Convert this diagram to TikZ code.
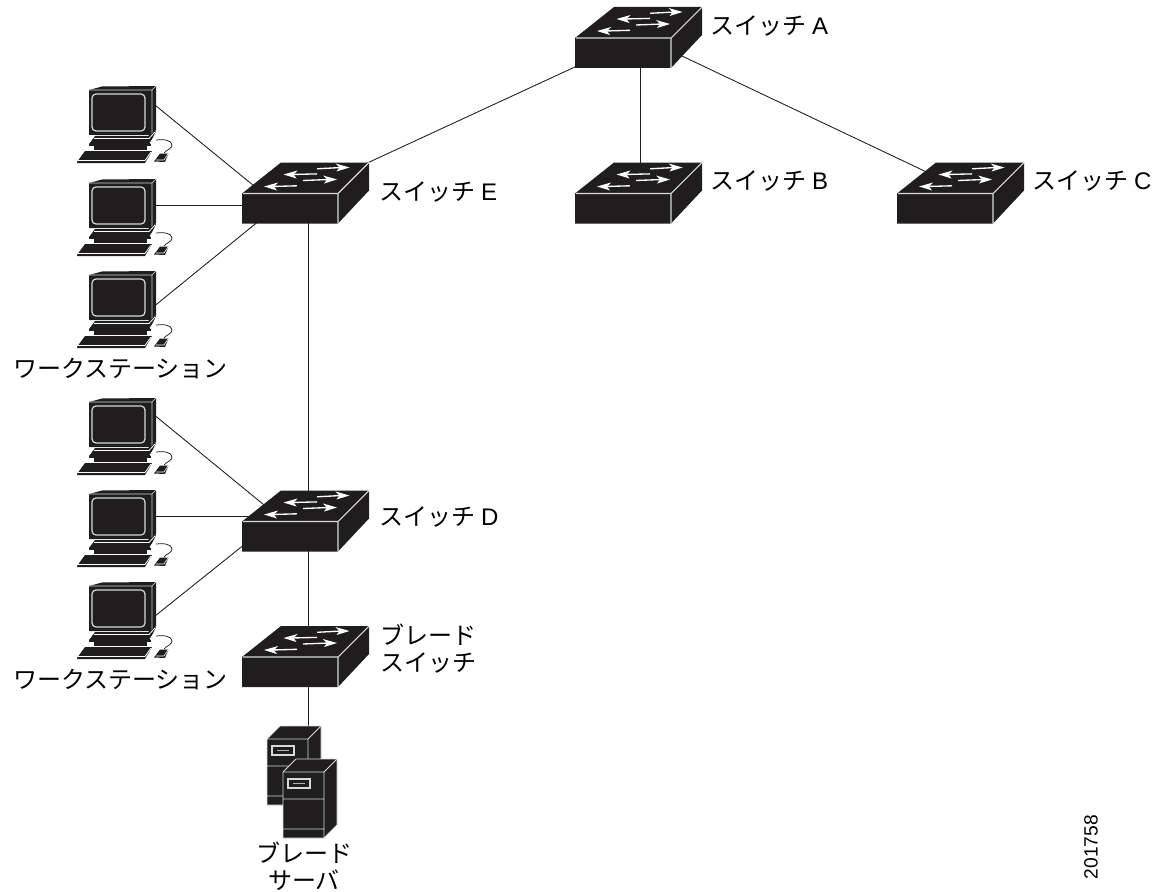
\documentclass[tikz,border=0pt]{standalone}
\usepackage{fontspec}
\setmainfont{Liberation Sans}
\newfontfamily\jpf{Noto Sans CJK JP}
\definecolor{ink}{HTML}{1F1D1E}
\newcommand{\lat}[1]{\hspace{4.5pt}{\fontspec{Liberation Sans}#1}}
\tikzset{
  anchorbox/.style={minimum size=0pt,inner sep=0pt,outer sep=0pt},
  lbl/.style={inner sep=0pt,outer sep=0pt,anchor=west,font=\jpf\fontsize{18pt}{20.25pt}\selectfont,align=left},
  lblc/.style={lbl,anchor=center,align=center},
  wire/.style={draw=ink,line width=0.65pt},
  edge/.style={draw=white!85!black,line width=0.8pt},
  flow/.style={draw=white,line width=1pt},
  head/.style={fill=white,draw=none},
  pics/switch/.style={code={
    \fill[ink] (0,0)--(39,-31)--(127,-31)--(127,-3)--(96,30)--(0,30)--cycle;
    \draw[edge] (1,0)--(96,0)--(96,30) (96,0)--(127,-31);
    \foreach \xa/\xya/\xb/\xyb in {75/-24.7/107.5/-26, 61/-13/95/-14}{
      \draw[flow] (\xa,\xya)--(\xb-8,\xyb);
      \fill[head] (\xb,\xyb)--(\xb-14,\xyb-4)--(\xb-10,\xyb)--(\xb-13,\xyb+4)--cycle;}
    \foreach \xa/\xya/\xb/\xyb in {75/-19.6/41.5/-19, 55/-7.7/22/-7}{
      \draw[flow] (\xa,\xya)--(\xb+8,\xyb);
      \fill[head] (\xb,\xyb)--(\xb+14,\xyb-4)--(\xb+10,\xyb)--(\xb+13,\xyb+4)--cycle;}
  }},
  pics/workstation/.style={code={
    \fill[ink] (0,0)--(13,-3.5)--(67,-4)--(67,40)--(63,45)--(0,45)--cycle;
    \draw[draw=white!85!black,line width=0.5pt] (0,0)--(63,0)--(63,45) (63,0)--(67,-4);
    \draw[draw=white!85!black,line width=0.9pt,rounded corners=3pt] (3,4) rectangle (56,41);
    % stand
    \fill[ink] (6,46)--(59,46)--(67,41)--(61,54)--(0,54)--cycle;
    \draw[draw=white,line width=0.6pt] (5,48.5)--(60,48.5) (60,48.5)--(66,42) (61,53)--(66,46);
    \fill[ink] (0,54)--(62,54)--(62,55.5)--(0,55.5)--cycle;
    \fill[ink] (5,56)--(58,56)--(58,60)--(5,60)--cycle;
    % keyboard
    \fill[ink] (-12,72)--(-4,61)--(63,61)--(56,73)--(-12,73)--cycle;
    \draw[draw=white,line width=0.6pt] (-11,70.5)--(56,70.5)--(62,62);
    % mouse and cord
    \draw[ink,line width=0.55pt] (67,50) .. controls (74,49) and (83,50) .. (83,55) .. controls (83,59) and (77,60) .. (75,63);
    \fill[ink] (65,71.5)--(71,63.5)--(79.5,63.5)--(76,72)--cycle;
    \draw[draw=white,line width=0.5pt] (67,70)--(75,70)--(79,64);
  }},
  pics/server/.style={code={
    \filldraw[fill=ink,draw=white!85!black,line width=0.7pt] (0,0)--(13,-13)--(54,-13)--(54,53)--(41,66)--(0,66)--cycle;
    \draw[draw=white!85!black,line width=0.7pt] (0,0)--(41,0)--(41,66) (41,0)--(54,-13) (0,27)--(41,27) (0,57)--(41,57);
    \draw[draw=white!85!black,line width=0.8pt] (5,7) rectangle (27,16);
    \draw[draw=white!70!black,line width=0.9pt] (10,11.5)--(22,11.5);
  }},
}
\begin{document}
\begin{tikzpicture}[x=0.75pt,y=-0.75pt]
\useasboundingbox (0,0) rectangle (1168,892);
% connection points (hidden behind the icons)
\node[anchorbox] (aL) at (590,60) {};
\node[anchorbox] (aM) at (640,60) {};
\node[anchorbox] (aR) at (675,52.7) {};
\node[anchorbox] (eT) at (350,171) {};
\node[anchorbox] (bT) at (640,180) {};
\node[anchorbox] (cT) at (935,176) {};
\node[anchorbox] (eW1) at (270,199) {};
\node[anchorbox] (eW2) at (260,205.7) {};
\node[anchorbox] (eW3) at (265,216) {};
\node[anchorbox] (eB) at (308,210) {};
\node[anchorbox] (dT) at (308,530) {};
\node[anchorbox] (dB) at (308,540) {};
\node[anchorbox] (dW1) at (280,518) {};
\node[anchorbox] (dW2) at (270,516) {};
\node[anchorbox] (dW3) at (260,532) {};
\node[anchorbox] (blT) at (308,670) {};
\node[anchorbox] (blB) at (308,680) {};
\node[anchorbox] (srv) at (308,735) {};
\node[anchorbox] (w1) at (150,101) {};
\node[anchorbox] (w2) at (150,205.7) {};
\node[anchorbox] (w3) at (150,309.6) {};
\node[anchorbox] (w4) at (150,411.5) {};
\node[anchorbox] (w5) at (150,516) {};
\node[anchorbox] (w6) at (150,620) {};
% connectors
\draw[wire] (aL) -- (eT);
\draw[wire] (aM) -- (bT);
\draw[wire] (aR) -- (cT);
\draw[wire] (eB) -- (dT);
\draw[wire] (dB) -- (blT);
\draw[wire] (blB) -- (srv);
\draw[wire] (w1) -- (eW1);
\draw[wire] (w2) -- (eW2);
\draw[wire] (w3) -- (eW3);
\draw[wire] (w4) -- (dW1);
\draw[wire] (w5) -- (dW2);
\draw[wire] (w6) -- (dW3);
% switches
\pic at (575,38) {switch};
\pic at (575,193.5) {switch};
\pic at (897,193.5) {switch};
\pic at (242,193.5) {switch};
\pic at (242,521.5) {switch};
\pic at (242,657) {switch};
% workstations
\foreach \yy in {90,183,275,402,494,586} \pic at (89,\yy) {workstation};
% servers
\pic at (267,739) {server};
\pic at (283,772) {server};
% labels
\node[lbl] (la) at (710,26) {スイッチ\lat{A}};
\node[lbl] (lb) at (710,181) {スイッチ\lat{B}};
\node[lbl] (lc) at (1032,181) {スイッチ\lat{C}};
\node[lbl] (le) at (379,192) {スイッチ\lat{E}};
\node[lbl] (ld) at (379,517) {スイッチ\lat{D}};
\node[lbl] (lbl1) at (380,648.5) {ブレード\\スイッチ};
\node[lbl] (lw1) at (13,368) {ワークステーション};
\node[lbl] (lw2) at (13,679) {ワークステーション};
\node[lblc] (ls) at (304,866) {ブレード\\サーバ};
\node[inner sep=0pt,rotate=90,font=\fontsize{14.4pt}{16pt}\selectfont] (num) at (1091,847) {201758};
\end{tikzpicture}
\end{document}
